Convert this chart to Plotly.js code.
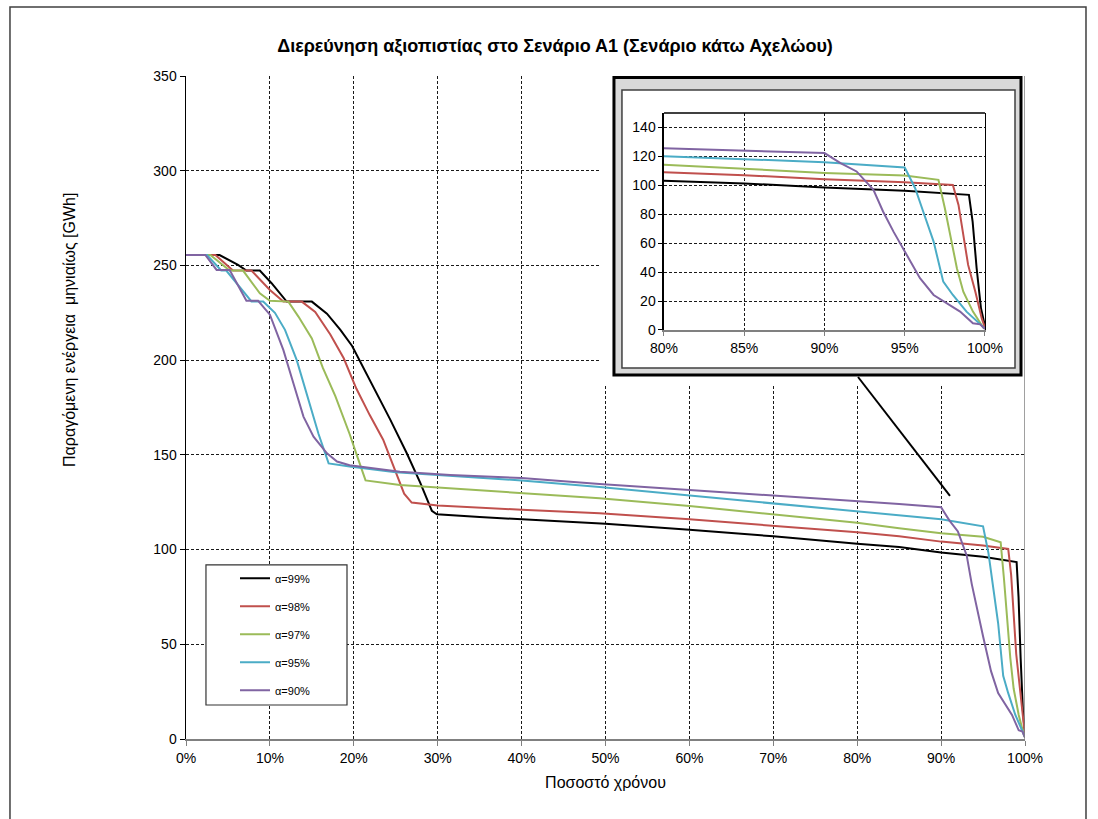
<!DOCTYPE html>
<html>
<head>
<meta charset="utf-8">
<script src="https://cdn.plot.ly/plotly-3.0.1.min.js"></script>
<style>
  html, body { margin: 0; padding: 0; background: #fff; }
  #chart { width: 1098px; height: 819px; }
</style>
</head>
<body>
<div id="chart"></div>
<script>
// Reliability levels and their line colours
const seriesNames = ['α=99%', 'α=98%', 'α=97%', 'α=95%', 'α=90%'];
const seriesColors = ['#000000', '#c0504d', '#9bbb59', '#4bacc6', '#8064a2'];

// Duration curves: share of time [%] vs monthly energy produced [GWh]
const x99 = [0, 4.0, 6.2, 7.2, 8.8, 10.2, 12.0, 15.0, 16.8, 18.4, 19.8, 20.8, 22.3, 24.3, 26.3, 27.9, 29.3, 29.9, 35, 40, 50, 60, 70, 80, 85, 90, 95, 99.0, 99.23, 99.48, 99.75, 100];
const y99 = [255.5, 255.5, 250.3, 247.3, 247.3, 240.6, 230.9, 230.9, 224.5, 216, 207.5, 199, 186, 169, 151, 135.5, 120.5, 118.6, 117.2, 116, 113.6, 110.5, 107, 103.1, 101.3, 98.5, 96.2, 93.4, 75, 42.7, 15, 2.5];

const x98 = [0, 3.5, 5.6, 7.8, 10.0, 11.6, 13.8, 15.4, 17.2, 18.8, 20.3, 21.9, 23.5, 25.0, 26.0, 26.9, 30, 40, 49.3, 60, 70, 80, 85, 90, 95, 98.0, 98.35, 98.65, 98.95, 99.4, 99.8, 100];
const y98 = [255.5, 255.5, 247.3, 247.3, 237, 230.9, 230.9, 225.5, 213.5, 201, 185, 171, 158, 140.5, 129.5, 124.8, 123.3, 121, 119.2, 116, 112.7, 109.1, 107, 104.2, 102.2, 100.3, 86.5, 65.7, 45, 26.5, 8, 1.6];

const x97 = [0, 2.9, 5.2, 6.8, 8.8, 10.0, 12.2, 13.4, 15.0, 16.3, 17.8, 19.5, 20.5, 21.4, 25.5, 31.5, 40, 49.3, 60, 70, 80, 85, 90, 95, 97.1, 97.5, 97.9, 98.25, 98.65, 99.25, 99.9, 100];
const y97 = [255.5, 255.5, 247.3, 247.3, 235.3, 231.3, 230.9, 223, 211.5, 196, 181, 161, 148, 136.5, 134.1, 132.4, 130, 127.1, 123, 118.5, 114.2, 111.3, 108.6, 106.8, 103.8, 84.2, 61.1, 42.7, 26.5, 12.7, 1.6, 1];

const x95 = [0, 2.5, 4.2, 4.8, 7.8, 9.2, 10.6, 11.8, 13.2, 14.6, 15.8, 17.0, 19.5, 25, 30, 40, 49.3, 60, 70, 80, 85, 90, 95.0, 95.65, 96.15, 96.8, 97.4, 98.0, 98.85, 99.5, 100];
const y95 = [255.5, 255.5, 247.3, 247.3, 231, 231, 225, 216, 200, 179, 161, 145.5, 143.8, 140.8, 139.3, 136.5, 133, 128.5, 124.5, 120, 118, 116, 112.3, 98, 81.9, 61.1, 33.4, 24.2, 12.7, 5.8, 1];

const x90 = [0, 2.3, 3.65, 5.2, 7.2, 8.6, 10.0, 11.6, 12.8, 14.0, 15.2, 16.8, 18.0, 19.5, 25.5, 31.5, 40, 49.3, 60, 70, 80, 85, 90, 91, 92, 93.05, 93.65, 94.3, 95.0, 95.95, 96.8, 98.45, 99.25, 99.7, 100];
const y90 = [255.5, 255.5, 247.6, 247.6, 231.3, 231.3, 224, 205.4, 187.8, 170.2, 159.6, 150.8, 146.5, 144.5, 141.1, 139.4, 137.8, 134.6, 131.5, 128.5, 125.7, 124, 122.3, 115.3, 109.6, 96.9, 81.9, 68, 54.2, 35.8, 24.2, 12.7, 4.6, 3.9, 0.7];

const seriesX = [x99, x98, x97, x95, x90];
const seriesY = [y99, y98, y97, y95, y90];

const FONT = 'Liberation Sans, Arial, sans-serif';

const traces = [];
seriesNames.forEach((name, i) => {
  traces.push({
    type: 'scatter', mode: 'lines', name: name,
    x: seriesX[i], y: seriesY[i],
    xaxis: 'x', yaxis: 'y',
    legendgroup: 'g' + i,
    line: { color: seriesColors[i], width: 2 },
    hoverinfo: 'skip'
  });
});
// frame holder for the zoom panel (no data of its own)
traces.push({ type: 'scatter', mode: 'lines', x: [], y: [], xaxis: 'x2', yaxis: 'y2', showlegend: false, hoverinfo: 'skip' });
// zoomed view of the last 20% of time
seriesNames.forEach((name, i) => {
  traces.push({
    type: 'scatter', mode: 'lines', name: name,
    x: seriesX[i], y: seriesY[i],
    xaxis: 'x3', yaxis: 'y3',
    showlegend: false,
    line: { color: seriesColors[i], width: 2 },
    hoverinfo: 'skip'
  });
});

const gridStyle = { showgrid: true, gridcolor: '#1a1a1a', gridwidth: 1, griddash: '3px,2px' };

const layout = {
  width: 1098, height: 819,
  margin: { l: 186, r: 73, t: 76, b: 80 },
  paper_bgcolor: '#ffffff', plot_bgcolor: '#ffffff',
  font: { family: FONT, color: '#000000', size: 14 },
  showlegend: true,
  title: {
    text: '<b>Διερεύνηση αξιοπιστίας στο Σενάριο Α1 (Σενάριο κάτω Αχελώου)</b>',
    font: { family: FONT, size: 18, color: '#000' },
    xref: 'container', yref: 'container',
    x: 0.5055, xanchor: 'center', y: 0.9438, yanchor: 'middle'
  },
  xaxis: Object.assign({
    range: [0, 100], dtick: 10, tick0: 0, ticksuffix: '%',
    showline: true, linecolor: '#808080', linewidth: 2,
    ticks: 'outside', ticklen: 5, tickcolor: '#808080',
    tickfont: { size: 14 }, zeroline: false,
    title: { text: 'Ποσοστό χρόνου', font: { size: 16 }, standoff: 12 }
  }, gridStyle),
  yaxis: Object.assign({
    range: [0, 350], dtick: 50, tick0: 0,
    showline: true, linecolor: '#000000', linewidth: 1.5,
    ticks: 'outside', ticklen: 5, tickcolor: '#000',
    tickfont: { size: 14 }, zeroline: false
  }, gridStyle),
  xaxis2: { domain: [0.4934, 1], range: [600, 1025], visible: false, anchor: 'y2', fixedrange: true },
  yaxis2: { domain: [0.534, 1], range: [385, 76], visible: false, anchor: 'x2', fixedrange: true },
  xaxis3: Object.assign({
    domain: [0.5697, 0.9523], anchor: 'y3',
    range: [80, 100], dtick: 5, tick0: 80, ticksuffix: '%',
    showline: true, linecolor: '#808080', linewidth: 2,
    ticks: 'outside', ticklen: 4, tickcolor: '#808080',
    tickfont: { size: 14 }, zeroline: false
  }, gridStyle),
  yaxis3: Object.assign({
    domain: [0.6169, 0.9442], anchor: 'x3',
    range: [0, 150], dtick: 20, tick0: 0,
    showline: true, linecolor: '#000000', linewidth: 1.5, mirror: true,
    ticks: 'outside', ticklen: 4, tickcolor: '#000',
    tickfont: { size: 14 }, zeroline: false
  }, gridStyle),
  legend: {
    x: 0.0584, xanchor: 'left', y: 0.2642, yanchor: 'top',
    bgcolor: 'rgba(0,0,0,0)', borderwidth: 0,
    font: { family: FONT, size: 11, color: '#000' },
    tracegroupgap: 9
  },
  annotations: [{
    text: 'Παραγόμενη ενέργεια  μηνιαίως [GWh]',
    xref: 'paper', yref: 'paper', x: -0.1383, y: 0.6169,
    xanchor: 'center', yanchor: 'middle', textangle: -90,
    showarrow: false, font: { family: FONT, size: 16, color: '#000' }
  }],
  shapes: [
    // outer frame of the figure
    { type: 'rect', xref: 'paper', yref: 'paper', x0: -0.2098, x1: 1.0727, y0: -0.137, y1: 1.104,
      line: { color: '#404040', width: 1.5 }, fillcolor: 'rgba(0,0,0,0)', layer: 'below' },
    // right edge of the plot area
    { type: 'line', xref: 'x', yref: 'paper', x0: 100, x1: 100, y0: 0, y1: 1,
      line: { color: '#808080', width: 1.5 }, layer: 'above' },
    // legend box
    { type: 'rect', xref: 'x', yref: 'y', x0: 2.38, x1: 19.19, y0: 17.95, y1: 91.87,
      line: { color: '#333333', width: 1.2 }, fillcolor: '#ffffff', layer: 'between' },
    // zoom panel: grey mount and white card
    { type: 'rect', xref: 'x2', yref: 'y2', x0: 614, x1: 1021, y0: 77.5, y1: 375,
      line: { color: '#000000', width: 3 }, fillcolor: '#d9d9d9', layer: 'below' },
    { type: 'rect', xref: 'x2', yref: 'y2', x0: 622, x1: 1015, y0: 90, y1: 368,
      line: { color: '#404040', width: 1.5 }, fillcolor: '#ffffff', layer: 'below' },
    // top edge of the zoomed plot
    { type: 'line', xref: 'x3 domain', yref: 'y3 domain', x0: 0, x1: 1, y0: 1, y1: 1,
      line: { color: '#000000', width: 1.5 }, layer: 'above' },
    // pointer from the zoom panel to the curves
    { type: 'line', xref: 'x', yref: 'y', x0: 80.1, y0: 191.1, x1: 91.06, y1: 128.3,
      line: { color: '#000000', width: 2 }, layer: 'above' }
  ]
};

Plotly.newPlot('chart', traces, layout, { displayModeBar: false, staticPlot: true });
</script>
</body>
</html>
